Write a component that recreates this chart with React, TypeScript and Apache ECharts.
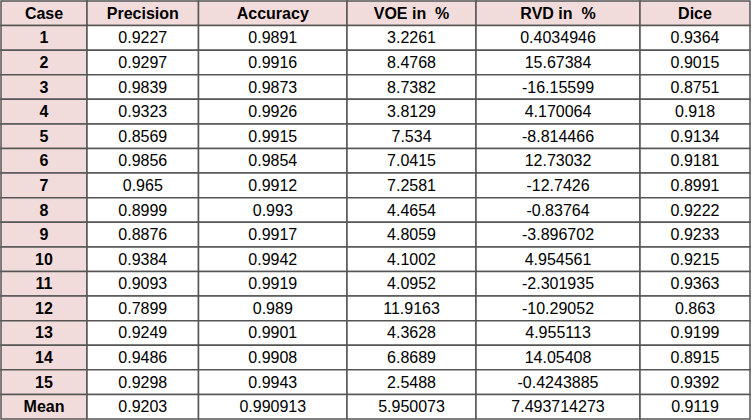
import React, { useEffect, useRef } from "react";
import * as echarts from "echarts";

const headers = ["Case", "Precision", "Accuracy", "VOE in  %", "RVD in  %", "Dice"];
const cases = ["1", "2", "3", "4", "5", "6", "7", "8", "9", "10", "11", "12", "13", "14", "15", "Mean"];
const precision = [0.9227, 0.9297, 0.9839, 0.9323, 0.8569, 0.9856, 0.965, 0.8999, 0.8876, 0.9384, 0.9093, 0.7899, 0.9249, 0.9486, 0.9298, 0.9203];
const accuracy = [0.9891, 0.9916, 0.9873, 0.9926, 0.9915, 0.9854, 0.9912, 0.993, 0.9917, 0.9942, 0.9919, 0.989, 0.9901, 0.9908, 0.9943, 0.990913];
const voe = [3.2261, 8.4768, 8.7382, 3.8129, 7.534, 7.0415, 7.2581, 4.4654, 4.8059, 4.1002, 4.0952, 11.9163, 4.3628, 6.8689, 2.5488, 5.950073];
const rvd = [0.4034946, 15.67384, -16.15599, 4.170064, -8.814466, 12.73032, -12.7426, -0.83764, -3.896702, 4.954561, -2.301935, -10.29052, 4.955113, 14.05408, -0.4243885, 7.493714273];
const dice = [0.9364, 0.9015, 0.8751, 0.918, 0.9134, 0.9181, 0.8991, 0.9222, 0.9233, 0.9215, 0.9363, 0.863, 0.9199, 0.8915, 0.9392, 0.9119];

// layout: column edges along the (hidden) value x axis
const colEdges = [0, 86, 197.5, 346, 475, 639, 749];

export default function App() {
  const ref = useRef<HTMLDivElement>(null);
  useEffect(() => {
    if (!ref.current) return;
    const chart = echarts.init(ref.current, undefined, { renderer: "svg" });
    const columnsData = [cases, precision, accuracy, voe, rvd, dice];
    const rowKeys = ["header", ...cases];
    const data: number[][] = [];
    const texts: string[] = [];
    const kinds: number[] = [];
    for (let r = 0; r < rowKeys.length; r++) {
      for (let c = 0; c < headers.length; c++) {
        data.push([colEdges[c], colEdges[c + 1], r]);
        texts.push(r === 0 ? headers[c] : String(columnsData[c][r - 1]));
        kinds.push(r === 0 || c === 0 ? 1 : 0);
      }
    }
    const font = '"Liberation Sans", Arial, sans-serif';
    chart.setOption({
      animation: false,
      grid: { left: 1, right: 2, top: 1, bottom: 1 },
      xAxis: { type: "value", min: 0, max: colEdges[colEdges.length - 1], show: false },
      yAxis: { type: "category", data: rowKeys, inverse: true, show: false },
      series: [
        {
          type: "custom",
          clip: false,
          data,
          renderItem: (params: any, api: any) => {
            const x0 = api.value(0);
            const x1 = api.value(1);
            const r = api.value(2);
            const p0 = api.coord([x0, r]);
            const p1 = api.coord([x1, r]);
            const h = api.size([0, 1])[1];
            const i = params.dataIndex;
            const bold = kinds[i] === 1;
            const cx = (p0[0] + p1[0]) / 2;
            return {
              type: "group",
              children: [
                {
                  type: "rect",
                  shape: { x: p0[0], y: p0[1] - h / 2, width: p1[0] - p0[0], height: h },
                  style: { fill: bold ? "#f2dcdb" : "#ffffff", stroke: "#555555", lineWidth: 1.5 },
                },
                {
                  type: "text",
                  x: cx,
                  y: p0[1],
                  style: {
                    text: texts[i],
                    fill: "#000000",
                    font: (bold ? "bold " : "") + "16px " + font,
                    textAlign: "center",
                    textVerticalAlign: "middle",
                    align: "center",
                    verticalAlign: "middle",
                  },
                },
              ],
            };
          },
        },
      ],
    });
    return () => chart.dispose();
  }, []);
  return (
    <div
      ref={ref}
      style={{ position: "fixed", left: 0, top: 0, width: 752, height: 420, background: "#ffffff" }}
    />
  );
}
